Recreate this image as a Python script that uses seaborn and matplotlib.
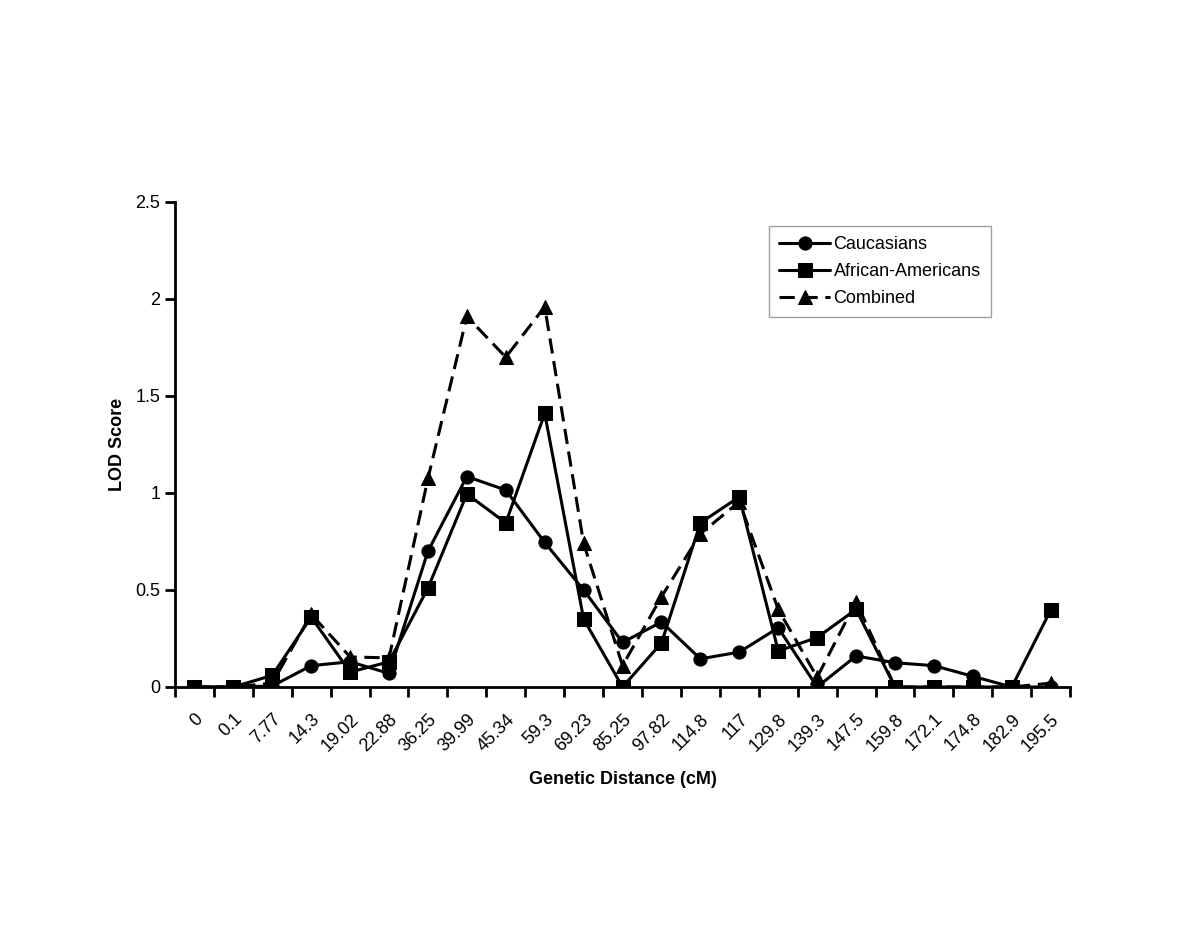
import matplotlib
matplotlib.use('Agg')
import matplotlib.pyplot as plt
import matplotlib.transforms as mtransforms
import seaborn as sns
import numpy as np
import pandas as pd

distance_labels = ['0', '0.1', '7.77', '14.3', '19.02', '22.88', '36.25', '39.99',
                   '45.34', '59.3', '69.23', '85.25', '97.82', '114.8', '117', '129.8',
                   '139.3', '147.5', '159.8', '172.1', '174.8', '182.9', '195.5']

caucasians = [0, 0, 0.005, 0.11, 0.13, 0.07, 0.70, 1.085, 1.015, 0.745, 0.50,
              0.23, 0.335, 0.145, 0.18, 0.305, 0, 0.16, 0.125, 0.11, 0.055, 0, 0]
african_americans = [0, 0, 0.06, 0.36, 0.077, 0.13, 0.51, 0.995, 0.846, 1.41, 0.35,
                     0, 0.227, 0.846, 0.98, 0.186, 0.255, 0.40, 0, 0, 0, 0, 0.396]
combined = [0, 0, 0.02, 0.375, 0.155, 0.15, 1.075, 1.91, 1.70, 1.96, 0.74,
            0.11, 0.465, 0.79, 0.955, 0.40, 0.05, 0.44, 0, 0, 0, 0, 0.02]

sns.set_theme(style='ticks', rc={'text.color': 'black', 'axes.labelcolor': 'black',
                                 'xtick.color': 'black', 'ytick.color': 'black'})
plt.rcParams['font.family'] = ['Liberation Sans', 'DejaVu Sans']

fig = plt.figure(figsize=(12, 9.27), dpi=100)
ax = fig.add_axes([0.1458, 0.2589, 0.746, 0.5232])

pos = np.arange(len(distance_labels))
series = [('Caucasians', caucasians, 'o', '-'),
          ('African-Americans', african_americans, 's', '-'),
          ('Combined', combined, '^', (0, (5, 2.5)))]

for name, vals, mk, ls in series:
    df = pd.DataFrame({'pos': pos, 'lod': vals})
    sns.lineplot(data=df, x='pos', y='lod', ax=ax, color='black', linewidth=2.2,
                 linestyle=ls, marker=mk, markersize=9.5, markeredgecolor='black',
                 markerfacecolor='black', label=name)

ax.set_xlim(-0.5, len(distance_labels) - 0.5)
ax.set_ylim(0, 2.5)
ax.set_yticks([0, 0.5, 1, 1.5, 2, 2.5])
ax.set_yticklabels(['0', '0.5', '1', '1.5', '2', '2.5'], fontsize=13)
ax.set_xticks(pos)
ax.set_xticklabels(distance_labels, rotation=45, ha='right', va='top',
                   rotation_mode='anchor', fontsize=13)
shift = mtransforms.ScaledTranslation(-7 / 100, 0, fig.dpi_scale_trans)
for lbl in ax.get_xticklabels():
    lbl.set_transform(lbl.get_transform() + shift)
ax.set_xticks(np.arange(-0.5, len(distance_labels)), minor=True)
ax.tick_params(axis='x', which='major', length=0, pad=17)
ax.tick_params(axis='x', which='minor', length=7, width=2, direction='out', color='black')
ax.tick_params(axis='y', length=7, width=2, direction='out', color='black')

for s in ['top', 'right']:
    ax.spines[s].set_visible(False)
for s in ['left', 'bottom']:
    ax.spines[s].set_linewidth(2)
    ax.spines[s].set_color('black')

ax.set_xlabel('Genetic Distance (cM)', fontsize=13, fontweight='bold', labelpad=12)
ax.set_ylabel('LOD Score', fontsize=13, fontweight='bold', labelpad=7)

leg = ax.legend(loc='upper left', bbox_to_anchor=(0.664, 0.95), fontsize=13,
                frameon=True, fancybox=False, handlelength=2.8, handletextpad=0.2,
                borderpad=0.55, labelspacing=0.55, borderaxespad=0)
leg.get_frame().set_edgecolor('#888888')
leg.get_frame().set_linewidth(1)

plt.savefig('out.png', dpi=100, facecolor='white')
plt.close()
